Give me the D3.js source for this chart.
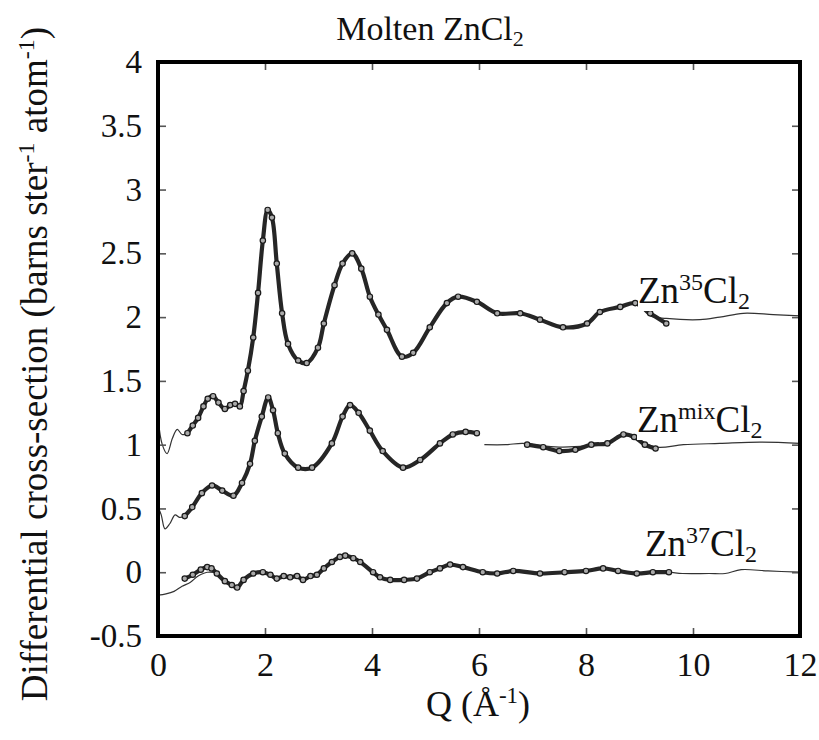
<!DOCTYPE html>
<html>
<head>
<meta charset="utf-8">
<script src="https://d3js.org/d3.v7.min.js"></script>
<style>
  body { margin: 0; background: #fff; }
  text { font-family: "Liberation Serif", "Times New Roman", serif; fill: #111; }
</style>
</head>
<body>
<svg width="819" height="740"></svg>
<script>
// tick values
var xTicks = [0, 2, 4, 6, 8, 10, 12];
var yTicks = [-0.5, 0, 0.5, 1, 1.5, 2, 2.5, 3, 3.5, 4];

// Zn35Cl2 measured points [Q, value]
var data35 = [[0.55,1.09],[0.65,1.15],[0.75,1.21],[0.85,1.30],[0.93,1.36],[1.03,1.38],[1.13,1.33],[1.25,1.28],
  [1.35,1.31],[1.44,1.32],[1.53,1.30],[1.6,1.42],[1.68,1.58],[1.78,1.84],[1.87,2.19],[1.96,2.6],[2.05,2.84],
  [2.13,2.78],[2.22,2.42],[2.32,2.03],[2.43,1.79],[2.62,1.66],[2.78,1.64],[2.99,1.76],[3.1,1.95],[3.3,2.25],
  [3.45,2.42],[3.63,2.5],[3.8,2.38],[3.96,2.16],[4.12,2.02],[4.28,1.9],[4.56,1.69],[4.77,1.72],[5.08,1.92],
  [5.4,2.11],[5.61,2.16],[5.96,2.12],[6.34,2.03],[6.77,2.03],[7.14,1.98],[7.57,1.92],[8.02,1.95],[8.26,2.04],
  [8.64,2.08],[8.92,2.11],[9.2,2.03],[9.5,1.95]];
// fitted curve ends (the middle follows the measured points)
var fitLead35 = [[0,1.21],[0.08,1.0],[0.17,0.93],[0.27,1.05],[0.36,1.12],[0.45,1.08]];
var fitTail35 = [[9.2,2.01],[9.5,1.99],[10.13,1.98],[10.5,2.0],[10.94,2.03],[11.5,2.02],[12,2.01]];

// Zn(mix)Cl2
var dataMixA = [[0.5,0.44],[0.64,0.51],[0.82,0.62],[1.01,0.68],[1.2,0.64],[1.41,0.6],[1.57,0.7],[1.72,0.85],
  [1.81,1.03],[1.94,1.22],[2.06,1.37],[2.15,1.27],[2.24,1.09],[2.37,0.93],[2.62,0.82],[2.88,0.82],[3.25,1.01],
  [3.45,1.22],[3.59,1.31],[3.75,1.25],[3.96,1.11],[4.2,0.95],[4.58,0.82],[4.9,0.88],[5.27,1.01],[5.51,1.08],
  [5.75,1.1],[5.96,1.09]];
var dataMixB = [[6.9,1.0],[7.2,0.98],[7.5,0.95],[7.8,0.96],[8.1,1.0],[8.4,1.01],[8.7,1.08],[8.9,1.06],[9.1,1.0],[9.3,0.97]];
var fitLeadMix = [[0,0.51],[0.06,0.45],[0.13,0.34],[0.22,0.38],[0.32,0.45],[0.4,0.43]];
var fitTailMix = [[6.1,1.0],[6.5,1.0],[6.82,1.01],[7.2,0.99],[7.57,0.98],[8.2,1.0],[8.5,1.03],[8.7,1.08],
  [8.9,1.05],[9.32,0.98],[9.82,1.0],[10.5,1.01],[11.25,1.02],[12,1.01]];

// Zn37Cl2
var data37 = [[0.5,-0.05],[0.65,-0.02],[0.8,0.02],[0.92,0.04],[1.0,0.03],[1.1,-0.01],[1.25,-0.07],[1.38,-0.1],
  [1.48,-0.12],[1.6,-0.06],[1.78,-0.01],[1.96,0.0],[2.1,-0.02],[2.22,-0.05],[2.35,-0.03],[2.47,-0.04],[2.6,-0.03],
  [2.71,-0.06],[2.85,-0.03],[2.97,-0.02],[3.1,0.03],[3.25,0.08],[3.4,0.12],[3.5,0.13],[3.65,0.11],[3.78,0.08],
  [4.02,0.0],[4.15,-0.04],[4.34,-0.06],[4.6,-0.06],[4.84,-0.05],[5.08,0.0],[5.27,0.03],[5.46,0.06],[5.7,0.04],
  [6.07,0.0],[6.34,-0.01],[6.64,0.01],[7.14,-0.01],[7.6,0.0],[8.0,0.01],[8.32,0.03],[8.6,0.01],[8.95,-0.01],
  [9.25,0.0],[9.55,0.0]];
var fitLead37 = [[0,-0.18],[0.15,-0.17],[0.3,-0.15],[0.45,-0.11],[0.6,-0.08],[0.75,-0.03],[0.92,0.0]];
var fitTail37 = [[9.8,-0.01],[10.3,-0.01],[10.6,-0.01],[10.9,0.02],[11.4,0.01],[12,0.0]];

var svg = d3.select("svg");
var plotLeft = 158, plotRight = 800, plotTop = 62, plotBottom = 636;

var x = d3.scaleLinear().domain([0, 12]).range([plotLeft, plotRight]);
var y = d3.scaleLinear().domain([-0.5, 4]).range([plotBottom, plotTop]);

var line = d3.line()
  .x(function(d) { return x(d[0]); })
  .y(function(d) { return y(d[1]); })
  .curve(d3.curveCatmullRom);

// fitted lines (thin)
var fits = [
  fitLead35.concat(data35.filter(function(d) { return d[0] < 9.0; }), fitTail35),
  fitLeadMix.concat(dataMixA),
  fitTailMix,
  fitLead37.concat(data37.filter(function(d) { return d[0] > 1.05; }), fitTail37)
];
svg.append("g").selectAll("path")
  .data(fits)
  .enter().append("path")
  .attr("d", line)
  .attr("fill", "none")
  .attr("stroke", "#333")
  .attr("stroke-width", 1.2);

// measured data: dense band of open circles
var measured = [data35, dataMixA, dataMixB, data37];
var dataG = svg.append("g");
measured.forEach(function(series) {
  dataG.append("path")
    .attr("d", line(series))
    .attr("fill", "none")
    .attr("stroke", "#262626")
    .attr("stroke-width", 4.2);
  dataG.selectAll(null)
    .data(series)
    .enter().append("circle")
    .attr("cx", function(d) { return x(d[0]); })
    .attr("cy", function(d) { return y(d[1]); })
    .attr("r", 2.7)
    .attr("fill", "#aaa")
    .attr("stroke", "#1a1a1a")
    .attr("stroke-width", 1.2);
});

// axes with inward ticks
var xAxis = svg.append("g")
  .attr("transform", "translate(0," + plotBottom + ")")
  .call(d3.axisBottom(x).tickValues(xTicks).tickSizeInner(-8).tickSizeOuter(0).tickPadding(16)
    .tickFormat(d3.format("d")));
var yAxis = svg.append("g")
  .attr("transform", "translate(" + plotLeft + ",0)")
  .call(d3.axisLeft(y).tickValues(yTicks).tickSizeInner(-8).tickSizeOuter(0).tickPadding(16)
    .tickFormat(function(d) { return d; }));
svg.append("g")
  .attr("transform", "translate(0," + plotTop + ")")
  .call(d3.axisTop(x).tickValues(xTicks).tickSizeInner(-8).tickSizeOuter(0).tickFormat(""));
svg.append("g")
  .attr("transform", "translate(" + plotRight + ",0)")
  .call(d3.axisRight(y).tickValues(yTicks).tickSizeInner(-8).tickSizeOuter(0).tickFormat(""));

svg.selectAll(".domain").remove();
svg.selectAll(".tick line").attr("stroke", "#555").attr("stroke-width", 1.6);
xAxis.selectAll("text").attr("font-size", 34).attr("font-family", "Liberation Serif").attr("fill", "#111");
yAxis.selectAll("text").attr("font-size", 33).attr("font-family", "Liberation Serif").attr("fill", "#111");

// frame
svg.append("rect")
  .attr("x", plotLeft).attr("y", plotTop)
  .attr("width", plotRight - plotLeft).attr("height", plotBottom - plotTop)
  .attr("fill", "none")
  .attr("stroke", "#000")
  .attr("stroke-width", 4);

// series labels
var labels = [
  { sup: "35", x: 638, y: 303 },
  { sup: "mix", x: 637, y: 432 },
  { sup: "37", x: 645, y: 556 }
];
labels.forEach(function(l) {
  var g = svg.append("g");
  var bg = g.append("rect").attr("fill", "#fff");
  var t = g.append("text")
    .attr("x", l.x).attr("y", l.y)
    .attr("font-size", 37);
  t.append("tspan").text("Zn");
  t.append("tspan").text(l.sup).attr("font-size", 24).attr("dy", -13);
  t.append("tspan").text("Cl").attr("dy", 13);
  t.append("tspan").text("2").attr("font-size", 24).attr("dy", 6);
  var bb = t.node().getBBox();
  bg.attr("x", bb.x).attr("y", bb.y + 5)
    .attr("width", bb.width).attr("height", bb.height - 8);
});

// title
var title = svg.append("text")
  .attr("x", 430).attr("y", 40)
  .attr("text-anchor", "middle")
  .attr("font-size", 34);
title.append("tspan").text("Molten ZnCl");
title.append("tspan").text("2").attr("font-size", 22).attr("dy", 6);

// x axis title
var xt = svg.append("text")
  .attr("x", 478).attr("y", 716)
  .attr("text-anchor", "middle")
  .attr("font-size", 36);
xt.append("tspan").text("Q (Å");
xt.append("tspan").text("-1").attr("font-size", 23).attr("dy", -13);
xt.append("tspan").text(")").attr("dy", 13);

// y axis title
var yt = svg.append("text")
  .attr("transform", "translate(47,364) rotate(-90)")
  .attr("text-anchor", "middle")
  .attr("font-size", 37);
yt.append("tspan").text("Differential cross-section (barns ster");
yt.append("tspan").text("-1").attr("font-size", 24).attr("dy", -13);
yt.append("tspan").text(" atom").attr("dy", 13);
yt.append("tspan").text("-1").attr("font-size", 24).attr("dy", -13);
yt.append("tspan").text(")").attr("dy", 13);
</script>
</body>
</html>
